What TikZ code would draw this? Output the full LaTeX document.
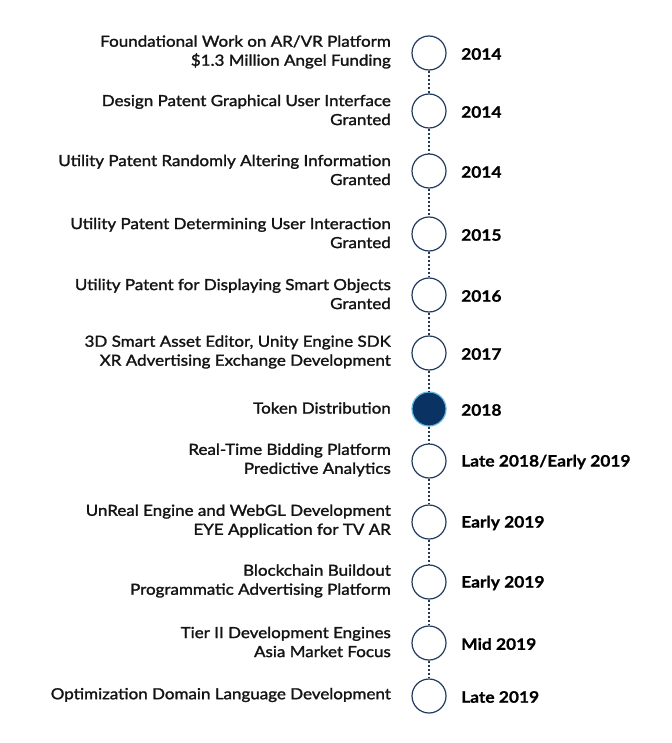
\documentclass[tikz,border=0pt]{standalone}
\usepackage{fontspec}
\setmainfont{Lato}
\newfontfamily\lblfont{Lato}[FakeStretch=1.11,FakeBold=1.6]
\newfontfamily\yrfont{Lato}[FakeStretch=1.1,FakeBold=0.8]
\begin{document}
\begin{tikzpicture}[x=1pt,y=-1pt,
  ms/.style={circle,draw=navy,line width=1.2pt,minimum size=34pt,inner sep=0pt,fill=white},
  msf/.style={ms,fill=navyfill,draw=glow},
  lbl/.style={anchor=east,align=right,font=\lblfont\fontsize{15.3}{19}\selectfont,inner sep=0pt,text=black!92},
  yr/.style={anchor=west,font=\yrfont\bfseries\fontsize{15.8}{17}\selectfont,inner sep=0pt},
  conn/.style={draw=navy,line width=1.1pt,dash pattern=on 2pt off 2pt}]
\definecolor{navy}{HTML}{1F3A5C}
\definecolor{navyfill}{HTML}{0A3363}
\definecolor{glow}{HTML}{5FB7E0}
\useasboundingbox (0,0) rectangle (671,743);
\foreach \i/\y/\t/\yrtxt in {
 1/53/{Foundational Work on AR/VR Platform\\\$1.3 Million Angel Funding}/2014,
 2/111/{Design Patent Graphical User Interface\\Granted}/2014,
 3/171/{Utility Patent Randomly Altering Information\\Granted}/2014,
 4/234/{Utility Patent Determining User Interaction\\Granted}/2015,
 5/295/{Utility Patent for Displaying Smart Objects\\Granted}/2016,
 6/353/{3D Smart Asset Editor, Unity Engine SDK\\XR Advertising Exchange Development}/2017,
 7/409/{Token Distribution}/2018,
 8/461/{Real-Time Bidding Platform\\Predictive Analytics}/{Late 2018/Early 2019},
 9/522/{UnReal Engine and WebGL Development\\EYE Application for TV AR}/{Early 2019},
 10/582/{Blockchain Buildout\\Programmatic Advertising Platform}/{Early 2019},
 11/643/{Tier II Development Engines\\Asia Market Focus}/{Mid 2019},
 12/696/{Optimization Domain Language Development}/{Late 2019}}
{
  \ifnum\i=7
    \node[msf] (c\i) at (429,\y) {};
  \else
    \node[ms] (c\i) at (429,\y) {};
  \fi
  \node[lbl] (t\i) at (391,\y-1) {\t};
  \node[yr] (y\i) at (461,\y+1) {\yrtxt};
}
\foreach \a/\b in {1/2,2/3,3/4,4/5,5/6,6/7,7/8,8/9,9/10,10/11,11/12}
  \draw[conn] (c\a) -- (c\b);
\end{tikzpicture}
\end{document}
